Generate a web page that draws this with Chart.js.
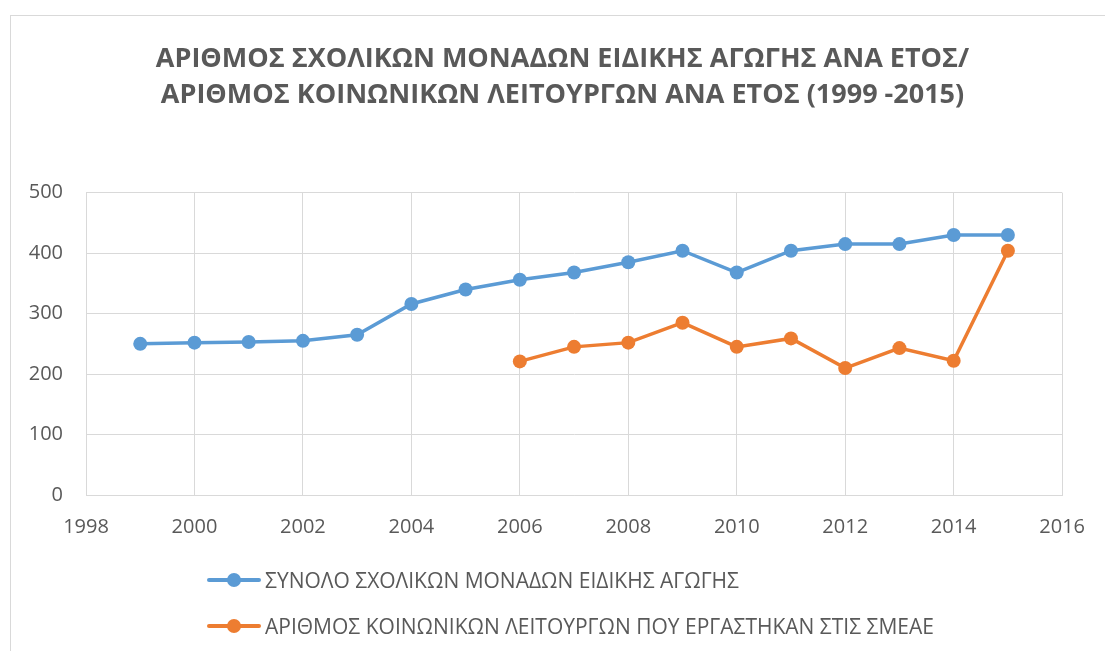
<!DOCTYPE html>
<html>
<head>
<meta charset="utf-8">
<script src="https://cdn.jsdelivr.net/npm/chart.js@4.4.1/dist/chart.umd.min.js"></script>
<style>
  body { margin: 0; background: #fff; overflow: hidden; }
  #frame { position: absolute; left: 10px; top: 15px; width: 1200px; height: 700px; border: 1px solid #d9d9d9; }
  #wrap { position: absolute; left: 0; top: 0; width: 1105px; height: 651px; }
  .item { position: absolute; left: 207px; height: 30px; font: 21px "Open Sans", sans-serif; color: #595959; white-space: nowrap; }
  .item .ln { position: absolute; left: 0; top: 13px; width: 54px; height: 4px; border-radius: 2px; }
  .item .dot { position: absolute; left: 20px; top: 8px; width: 14px; height: 14px; border-radius: 50%; }
  .item span { position: absolute; left: 58px; top: 0; line-height: 30px; }
</style>
</head>
<body>
<div id="frame"></div>
<div id="wrap"><canvas id="chart"></canvas></div>
<div id="legend"></div>
<script>
const titleLines = ['ΑΡΙΘΜΟΣ ΣΧΟΛΙΚΩΝ ΜΟΝΑΔΩΝ ΕΙΔΙΚΗΣ ΑΓΩΓΗΣ ΑΝΑ ΕΤΟΣ/', 'ΑΡΙΘΜΟΣ ΚΟΙΝΩΝΙΚΩΝ ΛΕΙΤΟΥΡΓΩΝ ΑΝΑ ΕΤΟΣ (1999 -2015)']
const seriesNames = ['ΣΥΝΟΛΟ ΣΧΟΛΙΚΩΝ ΜΟΝΑΔΩΝ ΕΙΔΙΚΗΣ ΑΓΩΓΗΣ', 'ΑΡΙΘΜΟΣ ΚΟΙΝΩΝΙΚΩΝ ΛΕΙΤΟΥΡΓΩΝ ΠΟΥ ΕΡΓΑΣΤΗΚΑΝ ΣΤΙΣ ΣΜΕΑΕ']
const schoolYears = [1999, 2000, 2001, 2002, 2003, 2004, 2005, 2006, 2007, 2008, 2009, 2010, 2011, 2012, 2013, 2014, 2015]
const schoolUnits = [250, 252, 253, 255, 265, 316, 340, 356, 368, 385, 404, 368, 404, 415, 415, 430, 430]
const workerYears = [2006, 2007, 2008, 2009, 2010, 2011, 2012, 2013, 2014, 2015]
const socialWorkers = [221, 245, 252, 285, 245, 259, 210, 243, 222, 404]
const xTicks = [1998, 2016, 2]   // min, max, step
const yTicks = [0, 500, 100]

const colors = ['#5B9BD5', '#ED7D31']
const gray = '#595959'
const gridColor = '#d9d9d9'

const toPoints = (xs, ys) => xs.map((x, i) => ({ x: x, y: ys[i] }))

const makeSet = (label, data, color) => ({
    label: label,
    data: data,
    borderColor: color,
    backgroundColor: color,
    borderWidth: 3.5,
    pointRadius: 7,
    pointHoverRadius: 7,
    pointBorderWidth: 0,
    showLine: true,
    tension: 0
})

const ctx = document.getElementById('chart').getContext('2d')
const myChart = new Chart(ctx, {
    type: 'scatter',
    data: {
        datasets: [
            makeSet(seriesNames[0], toPoints(schoolYears, schoolUnits), colors[0]),
            makeSet(seriesNames[1], toPoints(workerYears, socialWorkers), colors[1])
        ]
    },
    options: {
        responsive: true,
        maintainAspectRatio: false,
        animation: false,
        layout: { padding: { left: 20, right: 0, top: 0, bottom: 96 } },
        plugins: {
            legend: { display: false },
            tooltip: { enabled: false },
            title: {
                display: true,
                text: titleLines,
                color: gray,
                font: { family: '"Open Sans", sans-serif', size: 27, weight: 'bold', lineHeight: 1.35 },
                padding: { top: 41, bottom: 78.8 }
            }
        },
        scales: {
            x: {
                type: 'linear',
                min: xTicks[0],
                max: xTicks[1],
                afterFit: s => { s.height = 60 },
                ticks: {
                    stepSize: xTicks[2],
                    color: gray,
                    padding: 20,
                    maxRotation: 0,
                    font: { family: '"Open Sans", sans-serif', size: 20 },
                    callback: v => String(v)
                },
                grid: { color: gridColor, lineWidth: 1, drawTicks: false },
                border: { color: gridColor, width: 1 }
            },
            y: {
                min: yTicks[0],
                max: yTicks[1],
                afterFit: s => { s.width = 66 },
                ticks: {
                    stepSize: yTicks[2],
                    color: gray,
                    padding: 23,
                    font: { family: '"Open Sans", sans-serif', size: 20 }
                },
                grid: { color: gridColor, lineWidth: 1, drawTicks: false },
                border: { color: gridColor, width: 1 }
            },
            spacer: {
                position: 'right',
                display: true,
                afterFit: s => { s.width = 42 },
                ticks: { display: false },
                grid: { display: false },
                border: { display: false }
            }
        }
    }
})

// legend in two rows under the plot, like the original
const legend = document.getElementById('legend')
const rowsY = [565, 611]
myChart.data.datasets.forEach((ds, i) => {
    let item = document.createElement('div')
    item.classList.add('item')
    item.style.top = rowsY[i] + 'px'
    let ln = document.createElement('div')
    ln.classList.add('ln')
    ln.style.background = ds.borderColor
    let dot = document.createElement('div')
    dot.classList.add('dot')
    dot.style.background = ds.borderColor
    let txt = document.createElement('span')
    txt.textContent = ds.label
    item.appendChild(ln)
    item.appendChild(dot)
    item.appendChild(txt)
    legend.appendChild(item)
})
</script>
</body>
</html>
